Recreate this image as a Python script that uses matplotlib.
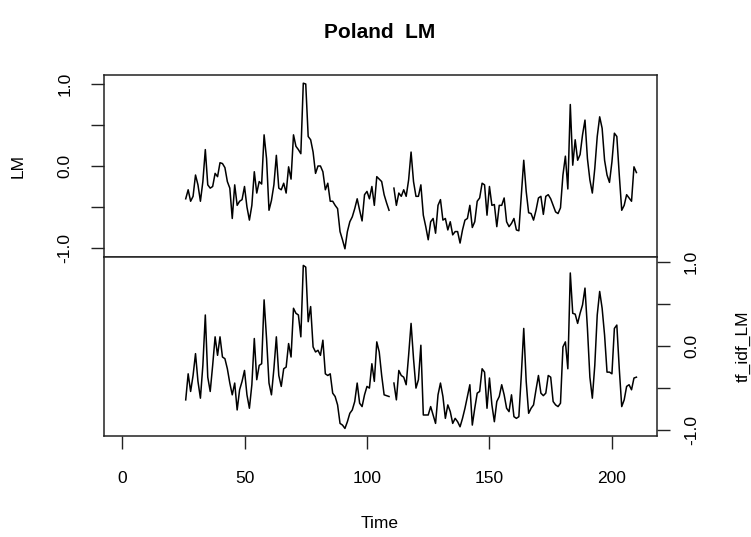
import numpy as np
import matplotlib
matplotlib.use("Agg")
import matplotlib.pyplot as plt

plt.rcParams['font.family'] = ['Liberation Sans', 'DejaVu Sans']

# time index of the series (one NA at t=110)
start_time = 26
lm = [
    -0.40, -0.29, -0.43, -0.37, -0.11, -0.23, -0.43, -0.19, 0.20, -0.23,
    -0.27, -0.25, -0.09, -0.13, 0.04, 0.03, -0.02, -0.19, -0.27, -0.64,
    -0.23, -0.48, -0.43, -0.41, -0.25, -0.50, -0.66, -0.48, -0.07, -0.33,
    -0.19, -0.22, 0.38, 0.09, -0.54, -0.42, -0.23, 0.13, -0.27, -0.29,
    -0.21, -0.33, -0.01, -0.16, 0.38, 0.24, 0.20, 0.15, 1.01, 1.00,
    0.36, 0.32, 0.17, -0.09, 0.00, 0.00, -0.07, -0.29, -0.21, -0.43,
    -0.43, -0.48, -0.52, -0.80, -0.90, -1.01, -0.80, -0.68, -0.62, -0.52,
    -0.40, -0.54, -0.67, -0.35, -0.31, -0.40, -0.25, -0.48, -0.13, -0.16,
    -0.19, -0.35, -0.45, -0.54, np.nan, -0.27, -0.48, -0.33, -0.37, -0.29,
    -0.37, -0.17, 0.17, -0.19, -0.37, -0.37, -0.23, -0.60, -0.74, -0.90,
    -0.68, -0.64, -0.82, -0.48, -0.41, -0.66, -0.64, -0.78, -0.68, -0.84,
    -0.80, -0.80, -0.94, -0.78, -0.66, -0.64, -0.48, -0.75, -0.68, -0.43,
    -0.39, -0.21, -0.23, -0.60, -0.25, -0.48, -0.47, -0.74, -0.48, -0.48,
    -0.39, -0.68, -0.74, -0.70, -0.64, -0.78, -0.79, -0.35, 0.07, -0.31,
    -0.57, -0.58, -0.66, -0.54, -0.39, -0.37, -0.59, -0.37, -0.35, -0.40,
    -0.48, -0.56, -0.58, -0.51, -0.11, 0.12, -0.28, 0.75, 0.01, 0.32,
    0.07, 0.14, 0.38, 0.56, 0.09, -0.17, -0.33, -0.03, 0.36, 0.60,
    0.46, 0.07, -0.11, -0.20, 0.05, 0.40, 0.36, -0.11, -0.54, -0.48,
    -0.35, -0.39, -0.43, -0.01, -0.08,
]
tf_idf_lm = [
    -0.64, -0.33, -0.54, -0.35, -0.09, -0.42, -0.62, -0.23, 0.37, -0.37,
    -0.54, -0.23, 0.11, -0.11, 0.11, -0.13, -0.15, -0.27, -0.44, -0.58,
    -0.44, -0.76, -0.52, -0.42, -0.29, -0.58, -0.74, -0.46, 0.09, -0.40,
    -0.23, -0.21, 0.55, 0.09, -0.44, -0.58, -0.27, 0.11, -0.35, -0.48,
    -0.27, -0.25, 0.03, -0.13, 0.45, 0.39, 0.37, 0.11, 0.96, 0.94,
    0.29, 0.47, -0.01, -0.07, -0.05, -0.11, 0.07, -0.33, -0.35, -0.33,
    -0.56, -0.60, -0.70, -0.92, -0.94, -0.98, -0.90, -0.80, -0.76, -0.66,
    -0.44, -0.68, -0.72, -0.58, -0.48, -0.50, -0.21, -0.42, 0.05, -0.07,
    -0.35, -0.58, -0.59, -0.60, np.nan, -0.44, -0.64, -0.29, -0.35, -0.37,
    -0.46, -0.11, 0.27, -0.15, -0.50, -0.40, 0.01, -0.82, -0.82, -0.82,
    -0.72, -0.82, -0.92, -0.58, -0.44, -0.60, -0.86, -0.70, -0.78, -0.92,
    -0.86, -0.90, -0.96, -0.86, -0.74, -0.60, -0.46, -0.94, -0.74, -0.56,
    -0.54, -0.27, -0.31, -0.74, -0.38, -0.70, -0.90, -0.66, -0.60, -0.46,
    -0.58, -0.74, -0.78, -0.58, -0.84, -0.86, -0.84, -0.35, 0.21, -0.42,
    -0.80, -0.74, -0.70, -0.52, -0.35, -0.56, -0.59, -0.56, -0.35, -0.37,
    -0.66, -0.70, -0.72, -0.68, -0.01, 0.05, -0.27, 0.87, 0.39, 0.38,
    0.27, 0.39, 0.49, 0.69, 0.21, -0.37, -0.62, -0.23, 0.37, 0.65,
    0.45, 0.13, -0.31, -0.31, -0.33, 0.21, 0.25, -0.27, -0.72, -0.64,
    -0.48, -0.46, -0.52, -0.38, -0.37,
]
time = np.arange(start_time, start_time + len(lm))

x_ticks = [0, 50, 100, 150, 200]
y_ticks = [-1.0, -0.5, 0.0, 0.5, 1.0]
y_labels = ['-1.0', '', '0.0', '', '1.0']

W, H = 751, 537
fig = plt.figure(figsize=(W / 100, H / 100), dpi=100)

def px(l, t, r, b):
    return [l / W, 1 - b / H, (r - l) / W, (b - t) / H]

ax1 = fig.add_axes(px(104, 75, 657, 257))
ax2 = fig.add_axes(px(104, 257, 657, 436))

xlim = (-7.36, 218.4)
for ax in (ax1, ax2):
    ax.set_xlim(*xlim)
    for s in ax.spines.values():
        s.set_linewidth(1.1)
        s.set_color('#222222')
    ax.tick_params(length=9.5, width=1.0, color='#222222', labelsize=12.5)

ax1.plot(time, lm, color='black', lw=1.1)
ax1.set_ylim(-1.11, 1.11)
ax1.set_xticks([])
ax1.set_yticks(y_ticks)
ax1.set_yticklabels(y_labels, rotation=90, va='center')
ax1.tick_params(axis='y', pad=13)

ax2.plot(time, tf_idf_lm, color='black', lw=1.1)
ax2.set_ylim(-1.07, 1.06)
ax2.yaxis.tick_right()
ax2.set_yticks(y_ticks)
ax2.set_yticklabels(y_labels, rotation=90, va='center')
ax2.tick_params(axis='y', pad=10)
ax2.set_xticks(x_ticks)
ax2.set_xticklabels([str(v) for v in x_ticks])
ax2.tick_params(axis='x', pad=16)

fig.text(380 / W, 1 - 33 / H, 'Poland  LM', ha='center', va='center',
         fontsize=15, fontweight='bold')
fig.text(18 / W, 1 - 166 / H, 'LM', rotation=90, ha='center', va='center',
         fontsize=12.5)
fig.text(736 / W, 1 - 346 / H, 'tf_idf_LM', rotation=90, ha='left', va='center',
         fontsize=12.5)
fig.text(380 / W, 1 - 523 / H, 'Time', ha='center', va='center', fontsize=12.5)

fig.savefig('out.png', dpi=100)
